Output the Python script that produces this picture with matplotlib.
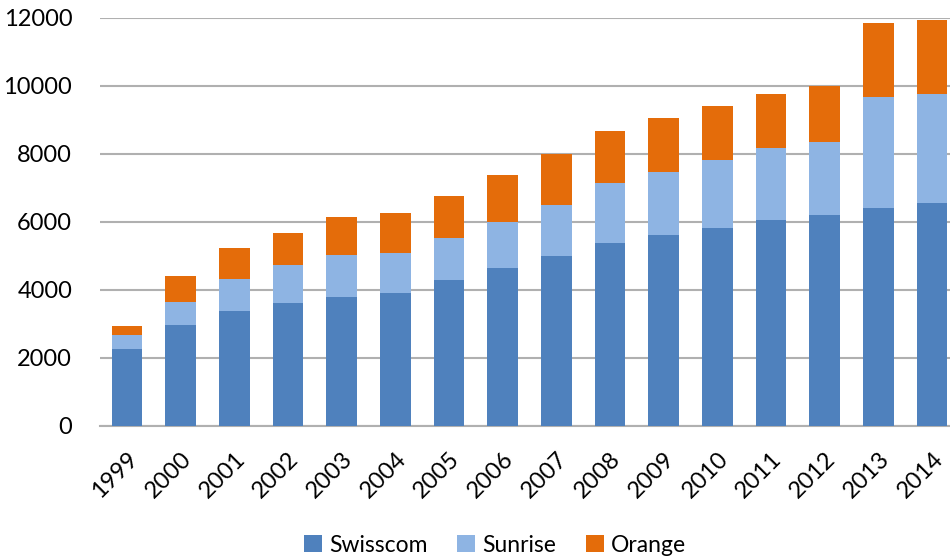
import matplotlib.pyplot as plt
import numpy as np

years = [str(y) for y in range(1999, 2015)]
swisscom = [2245, 2961, 3373, 3598, 3784, 3902, 4275, 4627, 4990, 5373, 5608, 5824, 6049, 6206, 6392, 6549]
sunrise = [412, 676, 941, 1127, 1245, 1167, 1245, 1353, 1510, 1774, 1843, 2000, 2118, 2147, 3284, 3196]
orange = [265, 755, 902, 951, 1098, 1176, 1245, 1393, 1500, 1510, 1588, 1588, 1578, 1647, 2157, 2186]

plt.rcParams['font.family'] = ['Lato', 'DejaVu Sans']

fig = plt.figure(figsize=(9.5, 5.6), dpi=100)
ax = fig.add_axes([100 / 950, 1 - 425.7 / 560, 859 / 950, (425.7 - 17.7) / 560])

x = np.arange(len(years))
w = 0.57
s1 = np.array(swisscom)
s2 = np.array(sunrise)
s3 = np.array(orange)
ax.bar(x, s1, w, color='#4f81bd', label='Swisscom', zorder=3)
ax.bar(x, s2, w, bottom=s1, color='#8eb4e3', label='Sunrise', zorder=3)
ax.bar(x, s3, w, bottom=s1 + s2, color='#e46c0a', label='Orange', zorder=3)

ax.set_xlim(-0.5, len(years) - 0.5)
ax.set_ylim(0, 12000)
ax.set_yticks(range(0, 12001, 2000))
ax.yaxis.grid(True, color='#b0b0b0', lw=1.5, zorder=0)
ax.set_xticks(x)
ax.set_xticklabels(years, rotation=45, ha='right', rotation_mode='anchor')
ax.tick_params(axis='both', length=0, labelsize=17, colors='#000000')
ax.tick_params(axis='y', pad=20)
ax.tick_params(axis='x', pad=16)
for sp in ['top', 'right', 'left']:
    ax.spines[sp].set_visible(False)
ax.spines['bottom'].set_color('#b0b0b0')
ax.spines['bottom'].set_linewidth(1.5)

fig.legend(loc='center', bbox_to_anchor=(495 / 950, 1 - 545 / 560), ncol=3, frameon=False,
           fontsize=16.5, handlelength=0.8, handleheight=0.8, handletextpad=0.3, columnspacing=1.3)

fig.savefig('out.png', dpi=100)
